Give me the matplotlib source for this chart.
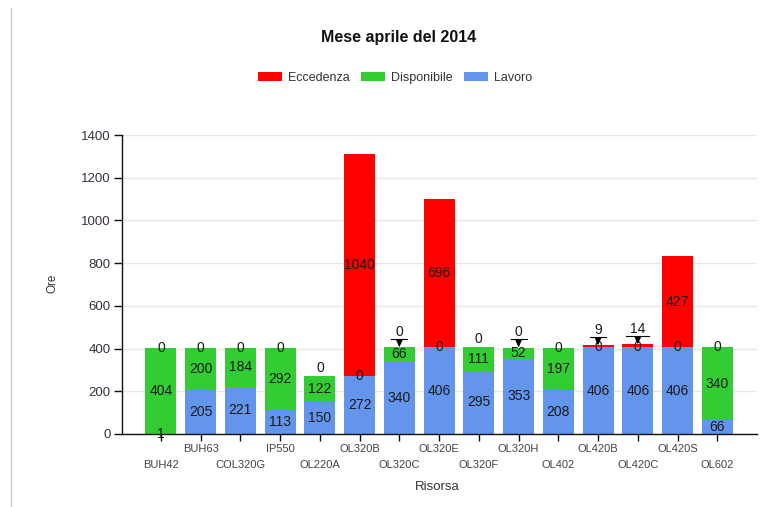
import matplotlib
matplotlib.use("Agg")
import matplotlib.pyplot as plt
from matplotlib.patches import Patch
from matplotlib.lines import Line2D
import numpy as np

plt.rcParams['font.family'] = ['Liberation Sans', 'DejaVu Sans']

categories = ["BUH42", "BUH63", "COL320G", "IP550", "OL220A", "OL320B", "OL320C",
              "OL320E", "OL320F", "OL320H", "OL402", "OL420B", "OL420C", "OL420S", "OL602"]
lavoro = [1, 205, 221, 113, 150, 272, 340, 406, 295, 353, 208, 406, 406, 406, 66]
disponibile = [404, 200, 184, 292, 122, 0, 66, 0, 111, 52, 197, 0, 0, 0, 340]
eccedenza = [0, 0, 0, 0, 0, 1040, 0, 696, 0, 0, 0, 9, 14, 427, 0]
yticks = [0, 200, 400, 600, 800, 1000, 1200, 1400]

title = "Mese aprile del 2014"
series_names = ["Eccedenza", "Disponibile", "Lavoro"]
colors = {"Eccedenza": "#ff0000", "Disponibile": "#33cc33", "Lavoro": "#6495ed"}

fig = plt.figure(figsize=(7.68, 5.07), dpi=100)
ax = fig.add_axes([122/768, 1-434/507, (757-122)/768, (434-135)/507])

x = np.arange(len(categories))
w = 0.78
lav = np.array(lavoro, float)
dis = np.array(disponibile, float)
ecc = np.array(eccedenza, float)

ax.bar(x, lav, w, color=colors["Lavoro"], zorder=2)
ax.bar(x, dis, w, bottom=lav, color=colors["Disponibile"], zorder=2)
ax.bar(x, ecc, w, bottom=lav + dis, color=colors["Eccedenza"], zorder=2)

ax.set_xlim(-0.98, 15.0)
ax.set_ylim(0, 1400)
ax.set_yticks(yticks)
ax.set_yticklabels([str(v) for v in yticks])
ax.yaxis.grid(True, color='#e6e6e6', lw=1, zorder=0)
ax.set_axisbelow(True)
for s in ['top', 'right']:
    ax.spines[s].set_visible(False)
for s in ['left', 'bottom']:
    ax.spines[s].set_color('#111111')
    ax.spines[s].set_linewidth(1.0)
ax.tick_params(axis='y', length=6, width=1, colors='#111111', labelcolor='#3a3040', labelsize=9.5, pad=2)
ax.tick_params(axis='x', length=5, width=1, colors='#111111')
ax.set_xticks(list(x))
ax.set_xticklabels([])
# alternating two-row category labels
for i, c in enumerate(categories):
    off = -15 if i % 2 == 1 else -31
    ax.annotate(c, xy=(i, 0), xytext=(0, off), textcoords='offset pixels',
                ha='center', va='center', fontsize=8, color='#4a4040', annotation_clip=False)

ax.set_xlabel("Risorsa", fontsize=9.5, color='#333333')
ax.xaxis.set_label_coords((437-122)/(757-122), -(487-434)/(434-135))
ax.xaxis.label.set_va('center')
ax.set_ylabel("Ore", fontsize=8.5, color='#333333')
ax.yaxis.set_label_coords(-(122-52)/(757-122), (434-283)/(434-135))
ax.yaxis.label.set_va('center')

# value labels
lab_kw = dict(ha='center', va='center', fontsize=10, color='#1a1a1a', zorder=5)
for i in range(len(categories)):
    b0 = 0.0
    prev_y = None
    for vals in (lav, dis, ecc):
        v = vals[i]
        yc = b0 + v / 2.0
        txt = str(int(v))
        is_ecc = vals is ecc
        if is_ecc and prev_y is not None and (yc - prev_y) < 45:
            top = b0 + v
            ax.annotate(txt, xy=(i, top), xytext=(i, top + 72), ha='center', va='center',
                        fontsize=10, color='#1a1a1a', zorder=6,
                        arrowprops=dict(arrowstyle='-|>,head_length=0.45,head_width=0.2',
                                        color='black', lw=0.8, shrinkA=6, shrinkB=0))
            hw = 0.11 + 0.09 * len(txt)
            ax.plot([i - hw, i + hw], [top + 39, top + 39], color='black', lw=0.8, zorder=6)
        else:
            if is_ecc and prev_y is not None and (yc - prev_y) < 70:
                yc = yc + 37
            ax.text(i, yc, txt, **lab_kw)
        prev_y = yc
        b0 += v

fig.text(399/768, 1-38/507, title, ha='center', va='center', fontsize=11.5, fontweight='bold', color='#111111')

handles = [Patch(facecolor=colors[n], edgecolor='none') for n in series_names]
fig.legend(handles, series_names, loc='center', bbox_to_anchor=(395/768, 1-78/507), ncol=3,
           frameon=False, fontsize=9, handlelength=1.9, handleheight=0.72, handletextpad=0.45,
           columnspacing=0.95, labelcolor='#333333')

fig.add_artist(Line2D([11/768, 11/768], [0, 1-8/507], color='#cccccc', lw=1, transform=fig.transFigure))

fig.savefig("out.png", dpi=100)
